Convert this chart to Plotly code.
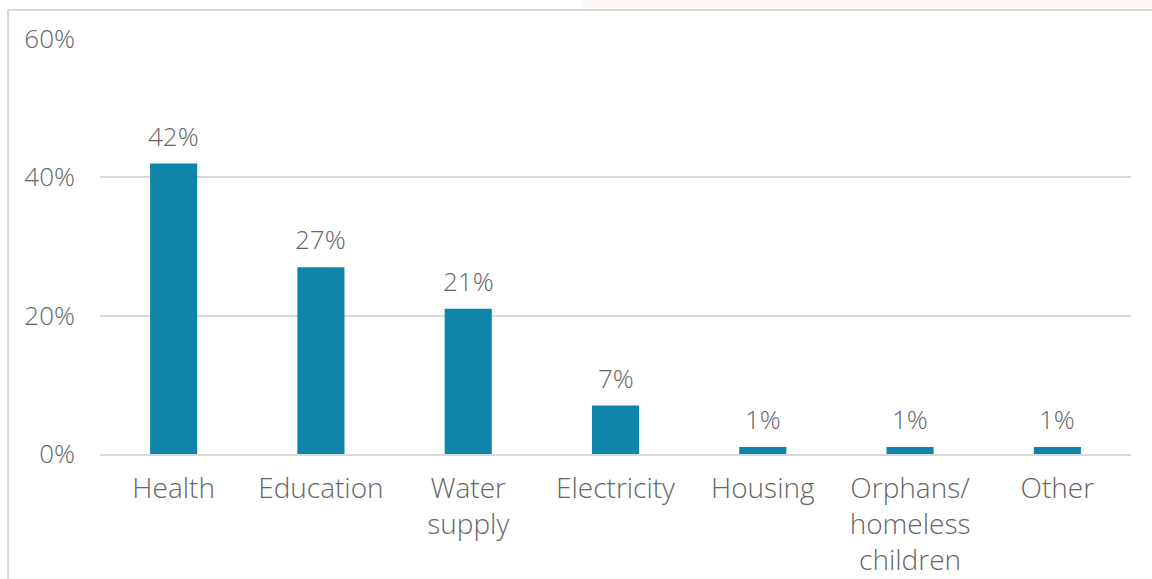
import plotly.graph_objects as go

# Share of spending by area (percent)
categories = ["Health", "Education", "Water<br>supply", "Electricity", "Housing",
              "Orphans/<br>homeless<br>children", "Other"]
shares = [42, 27, 21, 7, 1, 1, 1]
y_ticks = [0, 20, 40, 60]
y_tick_labels = ["0%", "20%", "40%", "60%"]

BAR = "#1085AA"
GRID = "#D9D9D9"
TEXT = "#666666"
FONT = "Open Sans, DejaVu Sans, sans-serif"
NUM_FONT = dict(family=FONT, size=26, color=TEXT, weight=300)
CAT_FONT = dict(family=FONT, size=28, color=TEXT, weight=300)

fig = go.Figure(
    go.Bar(
        x=categories,
        y=shares,
        marker=dict(color=BAR, line=dict(width=0)),
        hoverinfo="skip",
    )
)

# value labels above each bar
for cat, val in zip(categories, shares):
    fig.add_annotation(
        x=cat, y=val, text=f"{val}%", showarrow=False,
        xanchor="center", yanchor="bottom", yshift=8, font=NUM_FONT,
    )

fig.update_layout(
    width=1152,
    height=579,
    margin=dict(l=100, r=21, t=39, b=125),
    paper_bgcolor="white",
    plot_bgcolor="white",
    bargap=0.68,
    showlegend=False,
    font=NUM_FONT,
    shapes=[
        # faint backdrop strip above the frame
        dict(type="rect", xref="paper", yref="paper", x0=0.468, x1=1.03,
             y0=1.07, y1=1.1, fillcolor="#FDF7F5", line=dict(width=0), layer="below"),
        # chart frame: left and top edges
        dict(type="line", xref="paper", yref="paper", x0=-0.0892, x1=-0.0892,
             y0=1.07, y1=-0.5, line=dict(color=GRID, width=2)),
        dict(type="line", xref="paper", yref="paper", x0=-0.0892, x1=1.05,
             y0=1.07, y1=1.07, line=dict(color=GRID, width=2)),
    ],
)

fig.update_xaxes(
    automargin=False,
    showgrid=False,
    showline=True,
    linecolor=GRID,
    linewidth=2,
    ticks="",
    tickfont=CAT_FONT,
    ticklabelstandoff=8,
    tickangle=0,
)

fig.update_yaxes(
    automargin=False,
    range=[0, 60],
    tickvals=y_ticks,
    ticktext=y_tick_labels,
    showgrid=True,
    gridcolor=GRID,
    gridwidth=2,
    zeroline=False,
    showline=False,
    ticks="",
    tickfont=NUM_FONT,
    ticklabelstandoff=24,
)

fig.write_html("out.html")
